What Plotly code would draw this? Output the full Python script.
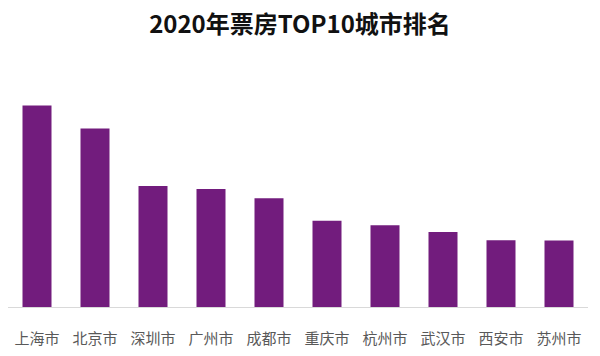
import plotly.graph_objects as go

cities = ["上海市", "北京市", "深圳市", "广州市", "成都市", "重庆市", "杭州市", "武汉市", "西安市", "苏州市"]
box_office = [10.85, 9.61, 6.51, 6.35, 5.85, 4.64, 4.40, 4.04, 3.60, 3.58]

fig = go.Figure(go.Bar(x=cities, y=box_office, marker=dict(color="#721c7d", line=dict(width=0)), width=0.5))

fig.update_layout(
    width=600, height=356,
    margin=dict(l=8, r=12, t=60, b=46),
    paper_bgcolor="white", plot_bgcolor="white",
    title=dict(text="<b>2020年票房TOP10城市排名</b>", x=0.5, xanchor="center", y=0.93, yanchor="middle",
               font=dict(family="Noto Sans CJK SC", size=24, color="#111111")),
    font=dict(family="Noto Sans CJK SC"),
    showlegend=False,
    xaxis=dict(showline=True, linecolor="#d9d9d9", linewidth=1, ticks="", showgrid=False,
               tickfont=dict(size=15, color="#595959"), ticklabelstandoff=18),
    yaxis=dict(visible=False, range=[0, 13.3]),
)

fig.write_html("out.html")
